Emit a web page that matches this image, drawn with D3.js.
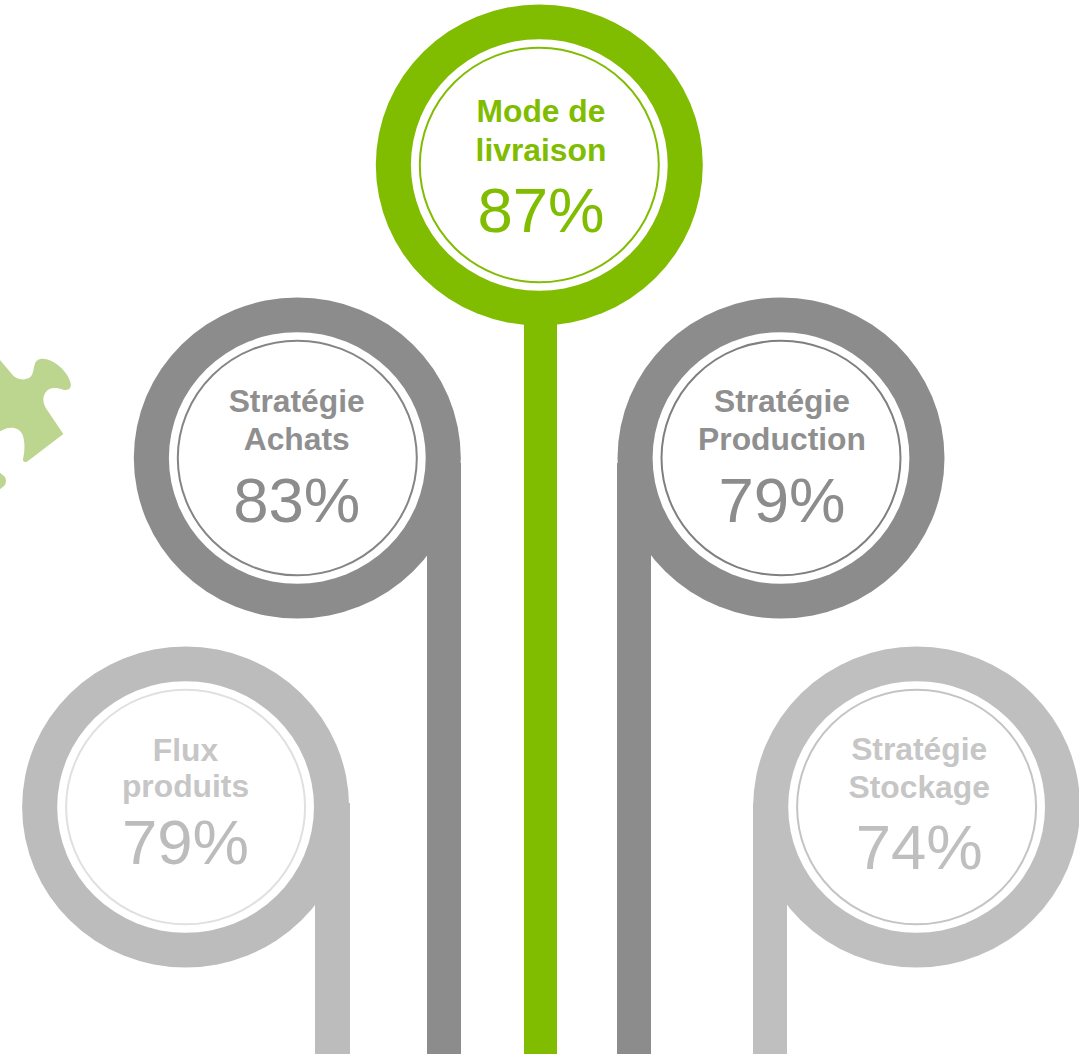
<!DOCTYPE html>
<html lang="fr">
<head>
<meta charset="utf-8">
<title>Taux par axe stratégique</title>
<script src="https://cdn.jsdelivr.net/npm/d3@7/dist/d3.min.js"></script>
<style>
  html, body { margin: 0; padding: 0; background: #fff; overflow: hidden; }
  svg { display: block; }
  text { font-family: "Liberation Sans", Arial, sans-serif; text-anchor: middle; }
  .name { font-weight: 700; font-size: 31.8px; }
  .pct { font-size: 63.5px; }
</style>
</head>
<body>
<svg id="chart" width="1079" height="1054"></svg>
<script>
// Indicators, one entry per badge
const categories = ["Mode de livraison", "Stratégie Achats", "Stratégie Production", "Flux produits", "Stratégie Stockage"];
const nameLines = [["Mode de", "livraison"], ["Stratégie", "Achats"], ["Stratégie", "Production"], ["Flux", "produits"], ["Stratégie", "Stockage"]];
const values = [87, 83, 79, 79, 74];

// Layout and colour lookups keyed on the indicator
const byCategory = range => d3.scaleOrdinal().domain(categories).range(range);
const centerX   = byCategory([539.3, 297.3, 781, 185.6, 916.6]);
const centerY   = byCategory([165, 458, 458, 807, 807]);
const stemLeft  = byCategory([524, 427, 617, 315, 753]);
const stemWidth = byCategory([33, 34, 34, 35, 34]);
const stemTop   = byCategory([315, 463, 463, 803, 803]);
const textX     = byCategory([541, 296.7, 782, 185.5, 919.2]);
const baseName1 = byCategory([122, 412, 412, 761, 760]);
const baseName2 = byCategory([161, 450, 450, 797, 797.5]);
const basePct   = byCategory([232, 521.5, 521.5, 864, 869]);
const ringColor = byCategory(["#80bc00", "#8c8c8c", "#8c8c8c", "#bcbcbc", "#bfbfbf"]);
const thinColor = byCategory(["#80bc00", "#858585", "#7f7f7f", "#e0e0e0", "#c4c4c4"]);
const nameColor = byCategory(["#80bc00", "#8f8f8f", "#8f8f8f", "#c6c6c6", "#c6c6c6"]);
const pctColor  = byCategory(["#80bc00", "#8c8c8c", "#8c8c8c", "#bcbcbc", "#bfbfbf"]);

const height = 1054;
const svg = d3.select("#chart");

// Puzzle piece cut off by the left edge
svg.append("g")
  .attr("transform", "translate(0,340) scale(0.3333)")
  .append("path")
  .attr("fill", "#bdd68f")
  .attr("d", "M0,60 L38,105 C50,120 75,122 90,112 C102,102 100,80 106,68 C112,56 125,54 140,58 C175,68 205,100 212,130 C215,146 205,152 190,149 C170,143 148,140 136,158 C125,175 130,195 145,215 L190,282 L85,362 C78,367 68,368 69,358 C74,335 76,310 68,285 C60,265 40,260 20,265 L0,274 Z M0,398 L12,408 C20,416 20,430 12,438 L0,448 Z");

const badge = svg.selectAll("g.badge")
  .data(categories)
  .join("g")
  .attr("class", "badge");

// Thick outer disc
badge.append("ellipse")
  .attr("cx", centerX).attr("cy", centerY)
  .attr("rx", 163.5).attr("ry", 160.5)
  .attr("fill", ringColor);

// Stem running to the bottom edge
badge.append("rect")
  .attr("x", stemLeft)
  .attr("y", stemTop)
  .attr("width", stemWidth)
  .attr("height", d => height - stemTop(d))
  .attr("fill", ringColor);

// White face
badge.append("ellipse")
  .attr("cx", centerX).attr("cy", centerY)
  .attr("rx", 128.4).attr("ry", 125.8)
  .attr("fill", "#fff");

// Thin inner ring
badge.append("ellipse")
  .attr("cx", centerX).attr("cy", centerY)
  .attr("rx", 119.5).attr("ry", 117.3)
  .attr("fill", "none")
  .attr("stroke", thinColor)
  .attr("stroke-width", 2);

badge.append("text").attr("class", "name")
  .attr("x", textX).attr("y", baseName1).attr("fill", nameColor)
  .text((d, i) => nameLines[i][0]);

badge.append("text").attr("class", "name")
  .attr("x", textX).attr("y", baseName2).attr("fill", nameColor)
  .text((d, i) => nameLines[i][1]);

badge.append("text").attr("class", "pct")
  .attr("x", textX).attr("y", basePct).attr("fill", pctColor)
  .text((d, i) => values[i] + "%");
</script>
</body>
</html>
